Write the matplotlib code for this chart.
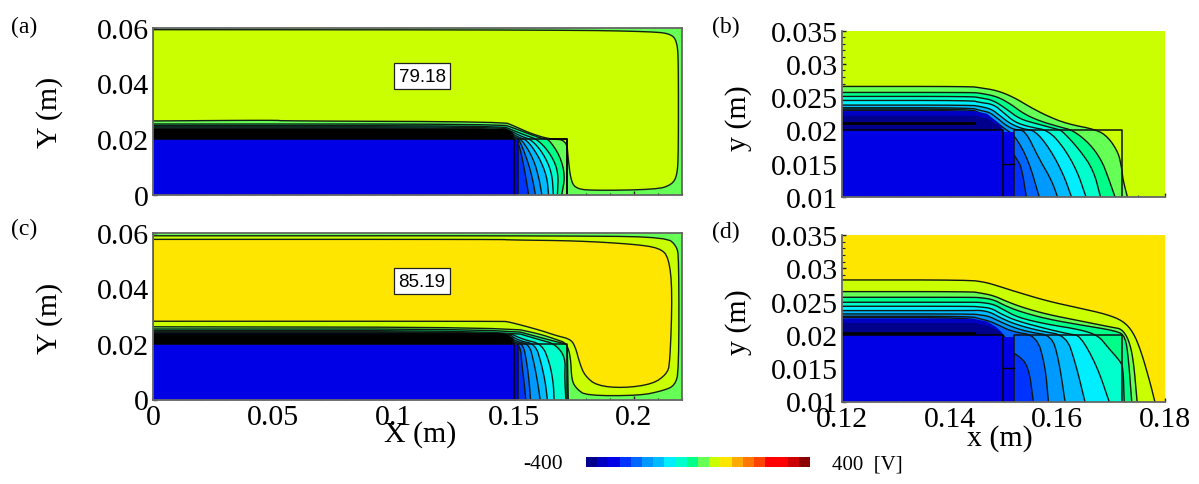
import numpy as np
from matplotlib import pyplot as plt
from matplotlib.colors import ListedColormap, BoundaryNorm
from matplotlib.ticker import FixedLocator, MultipleLocator

plt.rcParams['font.family'] = ['Liberation Serif', 'DejaVu Serif']

W, H = 1199, 485

# potential scale, 40 V per colour
levels = np.arange(-400, 401, 40)
level_colors = ['#00008c', '#0000c4', '#0000e6', '#0033ff', '#0066ff', '#0099ff', '#00bbff',
                '#00eeff', '#00ffcc', '#00ff88', '#66ff55', '#c9ff00', '#ffe600', '#ffaa00',
                '#ff7700', '#ff4400', '#ff0000', '#ff0000', '#cc0000', '#8b0000']
cmap = ListedColormap(level_colors)
norm = BoundaryNorm(levels, cmap.N)

peak_a = 79.18
peak_c = 85.19
cathode_v = -300
sheath_v = -380
inner_sheath_v = -340

# (a) closed edge of the bulk plasma
a_loop_x = [0, 0.1706, 0.2081, 0.2157, 0.2180, 0.2185, 0.2185, 0.2180, 0.2157, 0.2095, 0.1817,
            0.1755, 0.1737, 0.1727, 0.1720, 0.1645, 0.1568, 0.1499, 0.1457, 0.054, 0.051, 0]
a_loop_y = [0.0594, 0.0593, 0.0587, 0.0578, 0.0548, 0.0476, 0.0152, 0.0068, 0.0035, 0.0018, 0.0014,
            0.0023, 0.0056, 0.0128, 0.0197, 0.0200, 0.0221, 0.0248, 0.0262, 0.0265, 0.0268, 0.0265]

# (a) contours from the left edge down to the bottom edge
a_levels = [0, -40, -80, -120, -160, -200, -240]
a_xs = [[0, 0.145, 0.1499, 0.1568, 0.1624, 0.1645, 0.1693, 0.1714, 0.1700],
        [0, 0.145, 0.1495, 0.155, 0.1603, 0.1659, 0.1686, 0.1682],
        [0, 0.145, 0.149, 0.153, 0.1575, 0.1624, 0.1659, 0.1665],
        [0, 0.145, 0.1485, 0.152, 0.1555, 0.1603, 0.1638, 0.1645],
        [0, 0.145, 0.148, 0.151, 0.1535, 0.1582, 0.1605, 0.1617],
        [0, 0.145, 0.1475, 0.1505, 0.1525, 0.1562, 0.1580, 0.1590],
        [0, 0.145, 0.147, 0.150, 0.152, 0.1541, 0.1562]]
a_ys = [[0.0254, 0.0254, 0.0240, 0.0217, 0.0200, 0.0200, 0.0139, 0.0067, 0],
        [0.0248, 0.0248, 0.0232, 0.0213, 0.0197, 0.0139, 0.0079, 0],
        [0.0244, 0.0244, 0.0228, 0.0210, 0.0197, 0.0147, 0.0079, 0],
        [0.0240, 0.0240, 0.0224, 0.0206, 0.0197, 0.0139, 0.0067, 0],
        [0.0238, 0.0238, 0.0222, 0.0204, 0.0197, 0.0129, 0.0060, 0],
        [0.0237, 0.0237, 0.0220, 0.0202, 0.0197, 0.0111, 0.0050, 0],
        [0.0236, 0.0236, 0.0220, 0.0202, 0.0188, 0.0111, 0]]
a_dark_x = [0, 0.147, 0.1499, 0.150, 0]
a_dark_y = [0.0236, 0.0236, 0.0222, 0.020, 0.020]

# (c) two closed loops, yellow-green shell and yellow bulk
c_shell_x = [0, 0.148, 0.1609, 0.1678, 0.1720, 0.1737, 0.1741, 0.1763, 0.1803, 0.2025, 0.2122,
             0.2170, 0.2187, 0.2187, 0.2177, 0.2136, 0.1817, 0]
c_shell_y = [0.0262, 0.0260, 0.0236, 0.0216, 0.0203, 0.0152, 0.0069, 0.0037, 0.0014, 0.0014, 0.0032,
             0.0050, 0.0103, 0.0512, 0.0554, 0.0584, 0.0590, 0.0590]
c_bulk_x = [0, 0.145, 0.148, 0.1609, 0.1678, 0.1734, 0.1755, 0.1776, 0.1796, 0.1845, 0.1956, 0.2080,
            0.2136, 0.2150, 0.2160, 0.2145, 0.2108, 0.1997, 0.1761, 0.148, 0.145, 0]
c_bulk_y = [0.0282, 0.0282, 0.0280, 0.0250, 0.0230, 0.0218, 0.0194, 0.0127, 0.0086, 0.0050, 0.0041,
            0.0056, 0.0092, 0.0128, 0.0392, 0.0512, 0.0546, 0.0560, 0.0572, 0.0575, 0.0577, 0.0577]

c_levels = [0, -40, -80, -120, -160, -200, -240]
c_xs = [[0, 0.148, 0.1609, 0.1678, 0.1720, 0.1723, 0.1727],
        [0, 0.148, 0.1609, 0.1672, 0.1715, 0.1712, 0.1717],
        [0, 0.147, 0.154, 0.1618, 0.1650, 0.1665, 0.1668],
        [0, 0.147, 0.152, 0.1590, 0.1615, 0.1632, 0.1640],
        [0, 0.146, 0.151, 0.1565, 0.1585, 0.1600, 0.1610],
        [0, 0.146, 0.150, 0.1540, 0.1555, 0.1565, 0.1570],
        [0, 0.146, 0.149, 0.1528, 0.1535, 0.1545, 0.1550]]
c_ys = [[0.0254, 0.0254, 0.0224, 0.0208, 0.0200, 0.0188, 0],
        [0.0248, 0.0248, 0.0215, 0.0200, 0.0153, 0.0080, 0],
        [0.0244, 0.0244, 0.0216, 0.0200, 0.0130, 0.0060, 0],
        [0.0242, 0.0242, 0.0212, 0.0200, 0.0130, 0.0060, 0],
        [0.0241, 0.0241, 0.0208, 0.0200, 0.0130, 0.0060, 0],
        [0.0240, 0.0240, 0.0206, 0.0200, 0.0130, 0.0060, 0],
        [0.0240, 0.0240, 0.0206, 0.0195, 0.0120, 0.0050, 0]]
c_dark_x = [0, 0.146, 0.1499, 0.150, 0]
c_dark_y = [0.0239, 0.0239, 0.0222, 0.020, 0.020]

# (b) zoom at the dielectric corner
b_levels = [40, 0, -40, -80, -120, -160, -200, -240]
b_xs = [[0.12, 0.1439, 0.1457, 0.1488, 0.1519, 0.1550, 0.1581, 0.1618, 0.1674, 0.1695, 0.1714, 0.1720, 0.1723, 0.1731],
        [0.12, 0.144, 0.1457, 0.1488, 0.1513, 0.1538, 0.1568, 0.1606, 0.1630, 0.1661, 0.1683, 0.1695, 0.1708],
        [0.12, 0.144, 0.1457, 0.1482, 0.1506, 0.1531, 0.1562, 0.1599, 0.1609, 0.1643, 0.1668, 0.1681],
        [0.12, 0.144, 0.1457, 0.1482, 0.1500, 0.1522, 0.1550, 0.1584, 0.1612, 0.1637, 0.1654],
        [0.12, 0.144, 0.1457, 0.1478, 0.1494, 0.1513, 0.1537, 0.1559, 0.1587, 0.1612, 0.1627],
        [0.12, 0.144, 0.1457, 0.1475, 0.1491, 0.1506, 0.1521, 0.1541, 0.1565, 0.1590, 0.1601],
        [0.12, 0.144, 0.1457, 0.1470, 0.1488, 0.1500, 0.1522, 0.1547, 0.1567],
        [0.12, 0.144, 0.146, 0.1478, 0.1495, 0.1511, 0.1525, 0.1534, 0.1543]]
b_ys = [[0.0266, 0.0266, 0.0264, 0.0260, 0.0250, 0.0235, 0.0222, 0.0210, 0.0201, 0.0190, 0.0167, 0.0145, 0.0125, 0.0100],
        [0.0257, 0.0257, 0.0256, 0.0251, 0.0240, 0.0225, 0.0214, 0.0205, 0.0200, 0.0180, 0.0155, 0.0130, 0.0100],
        [0.0251, 0.0251, 0.0249, 0.0245, 0.0232, 0.0217, 0.0210, 0.0202, 0.0200, 0.0170, 0.0140, 0.0100],
        [0.0245, 0.0245, 0.0242, 0.0239, 0.0227, 0.0212, 0.0205, 0.0200, 0.0175, 0.0140, 0.0100],
        [0.0238, 0.0238, 0.0236, 0.0232, 0.0222, 0.0210, 0.0202, 0.0200, 0.0172, 0.0134, 0.0100],
        [0.0234, 0.0234, 0.0230, 0.0227, 0.0217, 0.0207, 0.0201, 0.0200, 0.0160, 0.0125, 0.0100],
        [0.0232, 0.0232, 0.0226, 0.0222, 0.0212, 0.0204, 0.0192, 0.0155, 0.0100],
        [0.0230, 0.0230, 0.0222, 0.0212, 0.0201, 0.0175, 0.0157, 0.0145, 0.0100]]
b_dark_x = [0.12, 0.1445, 0.147, 0.1488, 0.1497, 0.150, 0.12]
b_dark_y = [0.0229, 0.0229, 0.0225, 0.0213, 0.0205, 0.020, 0.020]
b_deep_x = [0.12, 0.1445, 0.147, 0.149, 0.150, 0.12]
b_deep_y = [0.0222, 0.0222, 0.0218, 0.0208, 0.020, 0.020]
b_streak_y = 0.0211

# (d) zoom at the dielectric corner, higher discharge voltage
d_levels = [80, 40, 0, -40, -80, -120, -160, -200, -240]
d_xs = [[0.12, 0.1436, 0.1467, 0.1488, 0.1519, 0.1581, 0.1643, 0.1692, 0.1723, 0.1742, 0.1757, 0.1773, 0.1782],
        [0.12, 0.144, 0.1457, 0.1482, 0.1507, 0.1537, 0.1581, 0.1643, 0.1705, 0.1720, 0.1733, 0.1742, 0.1749],
        [0.12, 0.144, 0.1457, 0.1482, 0.1503, 0.1531, 0.1581, 0.1643, 0.1711, 0.1727, 0.1733, 0.1739],
        [0.12, 0.144, 0.1457, 0.1482, 0.1500, 0.1528, 0.1581, 0.1643, 0.1677, 0.1695, 0.1717, 0.1723, 0.1725],
        [0.12, 0.144, 0.1457, 0.1478, 0.1497, 0.1525, 0.1581, 0.1624, 0.1643, 0.1674, 0.1697],
        [0.12, 0.144, 0.1457, 0.1476, 0.1494, 0.1522, 0.1568, 0.1617, 0.1634, 0.1652],
        [0.12, 0.144, 0.1457, 0.1473, 0.1491, 0.1519, 0.1550, 0.1590, 0.1603, 0.1615],
        [0.12, 0.144, 0.1457, 0.1473, 0.1488, 0.1516, 0.1562, 0.1578, 0.1584],
        [0.12, 0.144, 0.1457, 0.1480, 0.1505, 0.1510, 0.1525, 0.1547, 0.1556]]
d_ys = [[0.02825, 0.02825, 0.0279, 0.0274, 0.0266, 0.0251, 0.0240, 0.0231, 0.0221, 0.0204, 0.0174, 0.0129, 0.0100],
        [0.0265, 0.0265, 0.0263, 0.0259, 0.0250, 0.0241, 0.0231, 0.0221, 0.0211, 0.0209, 0.0194, 0.0164, 0.0100],
        [0.02565, 0.02565, 0.0256, 0.0253, 0.0244, 0.0235, 0.0224, 0.0215, 0.0206, 0.0198, 0.0164, 0.0100],
        [0.0249, 0.0249, 0.0249, 0.0246, 0.0238, 0.0226, 0.0216, 0.0208, 0.0199, 0.0181, 0.0161, 0.0151, 0.0100],
        [0.0243, 0.0243, 0.0242, 0.0240, 0.0231, 0.0221, 0.0209, 0.0201, 0.0199, 0.0154, 0.0100],
        [0.02365, 0.02365, 0.0237, 0.0234, 0.0226, 0.0216, 0.0206, 0.0199, 0.0159, 0.0100],
        [0.02315, 0.02315, 0.0230, 0.0228, 0.0221, 0.0211, 0.0204, 0.0199, 0.0164, 0.0100],
        [0.0228, 0.0228, 0.0224, 0.0221, 0.0216, 0.0205, 0.0199, 0.0154, 0.0100],
        [0.0226, 0.0226, 0.0218, 0.0210, 0.0198, 0.0175, 0.0171, 0.0154, 0.0100]]
d_dark_x = [0.12, 0.1445, 0.147, 0.1488, 0.1497, 0.150, 0.12]
d_dark_y = [0.0224, 0.0224, 0.0220, 0.0211, 0.0204, 0.020, 0.020]
d_deep_x = [0.12, 0.1445, 0.147, 0.149, 0.150, 0.12]
d_deep_y = [0.0218, 0.0218, 0.0214, 0.0206, 0.020, 0.020]
d_streak_y = 0.0203

ax_ticks = [0, 0.05, 0.1, 0.15, 0.2]
ax_ticklabels = ['0', '0.05', '0.1', '0.15', '0.2']
ay_ticks = [0, 0.02, 0.04, 0.06]
ay_ticklabels = ['0', '0.02', '0.04', '0.06']
bx_ticks = [0.12, 0.14, 0.16, 0.18]
bx_ticklabels = ['0.12', '0.14', '0.16', '0.18']
by_ticks = [0.01, 0.015, 0.02, 0.025, 0.03, 0.035]
by_ticklabels = ['0.01', '0.015', '0.02', '0.025', '0.03', '0.035']


def band(v):
    return cmap(norm(v))


def make_axes(fig, left, top, width, height):
    return fig.add_axes([left / W, 1 - (top + height) / H, width / W, height / H])


def round_corners(xs, ys, n=2):
    # corner cutting so the contours are drawn as curves, end points stay put
    pts = np.column_stack([xs, ys])
    for _ in range(n):
        q = 0.75 * pts[:-1] + 0.25 * pts[1:]
        r = 0.25 * pts[:-1] + 0.75 * pts[1:]
        mid = np.empty((2 * len(q), 2))
        mid[0::2] = q
        mid[1::2] = r
        pts = np.vstack([pts[0], mid, pts[-1]])
    return pts[:, 0], pts[:, 1]


def fill_loop(ax, xs, ys, v):
    sx, sy = round_corners(xs, ys)
    ax.fill(sx, sy, color=band(v), ec='none', zorder=2)
    ax.plot(np.append(sx, sx[0]), np.append(sy, sy[0]), color='#152015', lw=1.0, zorder=3)


def draw_contours(ax, lvls, xs, ys, xmin, ymin, z=4):
    # each contour runs left edge -> bottom edge, inner ones paint over outer ones
    for i, lvl in enumerate(lvls):
        sx, sy = round_corners(xs[i], ys[i])
        ax.fill(np.append(sx, xmin), np.append(sy, ymin), color=band(lvl - 20), ec='none', zorder=z + i * 0.01)
        ax.plot(sx, sy, color='#101810', lw=1.0, zorder=z + i * 0.01)


def draw_electrode(ax, xmin, ymin):
    ax.fill([xmin, 0.15, 0.15, xmin], [ymin, ymin, 0.02, 0.02], color=band(cathode_v), ec='none', zorder=6)
    ax.fill([0.15, 0.152, 0.152, 0.15], [ymin, ymin, 0.0197, 0.0197], color=band(cathode_v), ec='none', zorder=6)
    ax.plot([xmin, 0.15, 0.15], [0.02, 0.02, ymin], color='k', lw=1.1, zorder=8)
    ax.plot([0.152, 0.152, 0.172, 0.172], [ymin, 0.02, 0.02, ymin], color='#111111', lw=1.1, zorder=8)


def style_axes(ax, xlim, ylim, xticks, yticks, xminor, yminor):
    ax.set_xlim(xlim)
    ax.set_ylim(ylim)
    ax.xaxis.set_major_locator(FixedLocator(xticks))
    ax.yaxis.set_major_locator(FixedLocator(yticks))
    ax.xaxis.set_minor_locator(MultipleLocator(xminor))
    ax.yaxis.set_minor_locator(MultipleLocator(yminor))
    ax.tick_params(which='major', direction='in', length=3, width=1, color='#222222', labelsize=21.5, pad=3)
    ax.tick_params(which='minor', direction='in', length=1.8, width=0.8, color='#222222')
    for s in ax.spines.values():
        s.set_color('#666666')
        s.set_linewidth(1.3)
        s.set_zorder(20)


fig = plt.figure(figsize=(W / 100, H / 100), dpi=100)

# (a)
ax = make_axes(fig, 153, 29, 529, 166.5)
ax.set_facecolor(band(20))
fill_loop(ax, a_loop_x, a_loop_y, peak_a)
draw_contours(ax, a_levels, a_xs, a_ys, 0, 0)
ax.fill(a_dark_x, a_dark_y, color='k', ec='none', zorder=5)
draw_electrode(ax, 0, 0)
ax.plot([0.165, 0.172, 0.172], [0.0201, 0.0201, 0], color='k', lw=1.2, zorder=9)
style_axes(ax, (0, 0.22), (0, 0.06), ax_ticks, ay_ticks, 0.01, 0.005)
ax.set_xticklabels([])
ax.set_yticklabels(ay_ticklabels)
ax.text(0.1119, 0.0427, str(peak_a), family='Liberation Sans', fontsize=13.5, ha='center', va='center', zorder=15,
        bbox=dict(boxstyle='square,pad=0.22', fc='white', ec='#222222', lw=0.9))

# (c)
ax = make_axes(fig, 153, 234, 529, 166.5)
ax.set_facecolor(band(20))
fill_loop(ax, c_shell_x, c_shell_y, peak_a)
fill_loop(ax, c_bulk_x, c_bulk_y, peak_c)
draw_contours(ax, c_levels, c_xs, c_ys, 0, 0)
ax.fill(c_dark_x, c_dark_y, color='k', ec='none', zorder=5)
draw_electrode(ax, 0, 0)
style_axes(ax, (0, 0.22), (0, 0.06), ax_ticks, ay_ticks, 0.01, 0.005)
ax.set_xticklabels(ax_ticklabels)
ax.set_yticklabels(ay_ticklabels)
ax.text(0.1119, 0.0427, str(peak_c), family='Liberation Sans', fontsize=13.5, ha='center', va='center', zorder=15,
        bbox=dict(boxstyle='square,pad=0.22', fc='white', ec='#222222', lw=0.9))

# (b)
ax = make_axes(fig, 842, 31.5, 322.5, 166.5)
ax.set_facecolor(band(peak_a))
draw_contours(ax, b_levels, b_xs, b_ys, 0.12, 0.01)
ax.fill(b_dark_x, b_dark_y, color=band(inner_sheath_v), ec='none', zorder=5)
ax.fill(b_deep_x, b_deep_y, color=band(sheath_v), ec='none', zorder=5.1)
ax.plot([0.12, 0.1445], [b_streak_y, b_streak_y], color='k', lw=2, zorder=5.2)
draw_electrode(ax, 0.12, 0.01)
ax.plot([0.15, 0.152], [0.015, 0.015], color='k', lw=1.0, zorder=8)
style_axes(ax, (0.12, 0.18), (0.01, 0.035), bx_ticks, by_ticks, 0.005, 0.001)
ax.set_xticklabels([])
ax.set_yticklabels(by_ticklabels)
ax.spines['top'].set_visible(False)
ax.spines['right'].set_visible(False)

# (d)
ax = make_axes(fig, 842, 236, 322.5, 166.5)
ax.set_facecolor(band(peak_c))
draw_contours(ax, d_levels, d_xs, d_ys, 0.12, 0.01)
ax.fill(d_dark_x, d_dark_y, color=band(inner_sheath_v), ec='none', zorder=5)
ax.fill(d_deep_x, d_deep_y, color=band(sheath_v), ec='none', zorder=5.1)
ax.plot([0.12, 0.1445], [d_streak_y, d_streak_y], color='k', lw=2, zorder=5.2)
draw_electrode(ax, 0.12, 0.01)
ax.plot([0.15, 0.152], [0.015, 0.015], color='k', lw=1.0, zorder=8)
style_axes(ax, (0.12, 0.18), (0.01, 0.035), bx_ticks, by_ticks, 0.005, 0.001)
ax.set_xticklabels(bx_ticklabels)
ax.set_yticklabels(by_ticklabels)
ax.spines['top'].set_visible(False)
ax.spines['right'].set_visible(False)

# axis titles and panel letters
for label, px, py, rot in [('Y (m)', 50, 112, 90), ('Y (m)', 50, 318, 90), ('y (m)', 739, 118, 90),
                           ('y (m)', 739, 322, 90), ('X (m)', 420, 435, 0), ('x (m)', 1000, 439, 0)]:
    fig.text(px / W, 1 - py / H, label, fontsize=21.5, rotation=rot, ha='center', va='center')
for label, px, py in [('(a)', 24, 27), ('(b)', 726, 27), ('(c)', 24, 229), ('(d)', 726, 232)]:
    fig.text(px / W, 1 - py / H, label, fontsize=17, ha='center', va='center')

# colour scale
cax = make_axes(fig, 586, 458, 224, 10)
cax.pcolormesh(levels, [0, 1], ((levels[:-1] + levels[1:]) / 2).reshape(1, -1), cmap=cmap, norm=norm)
cax.axis('off')
fig.text(543 / W, 1 - 465 / H, '-400', fontsize=15.5, ha='center', va='center')
fig.text(832 / W, 1 - 465 / H, '400  [V]', fontsize=15, ha='left', va='center')

fig.savefig('out.png', dpi=100)
